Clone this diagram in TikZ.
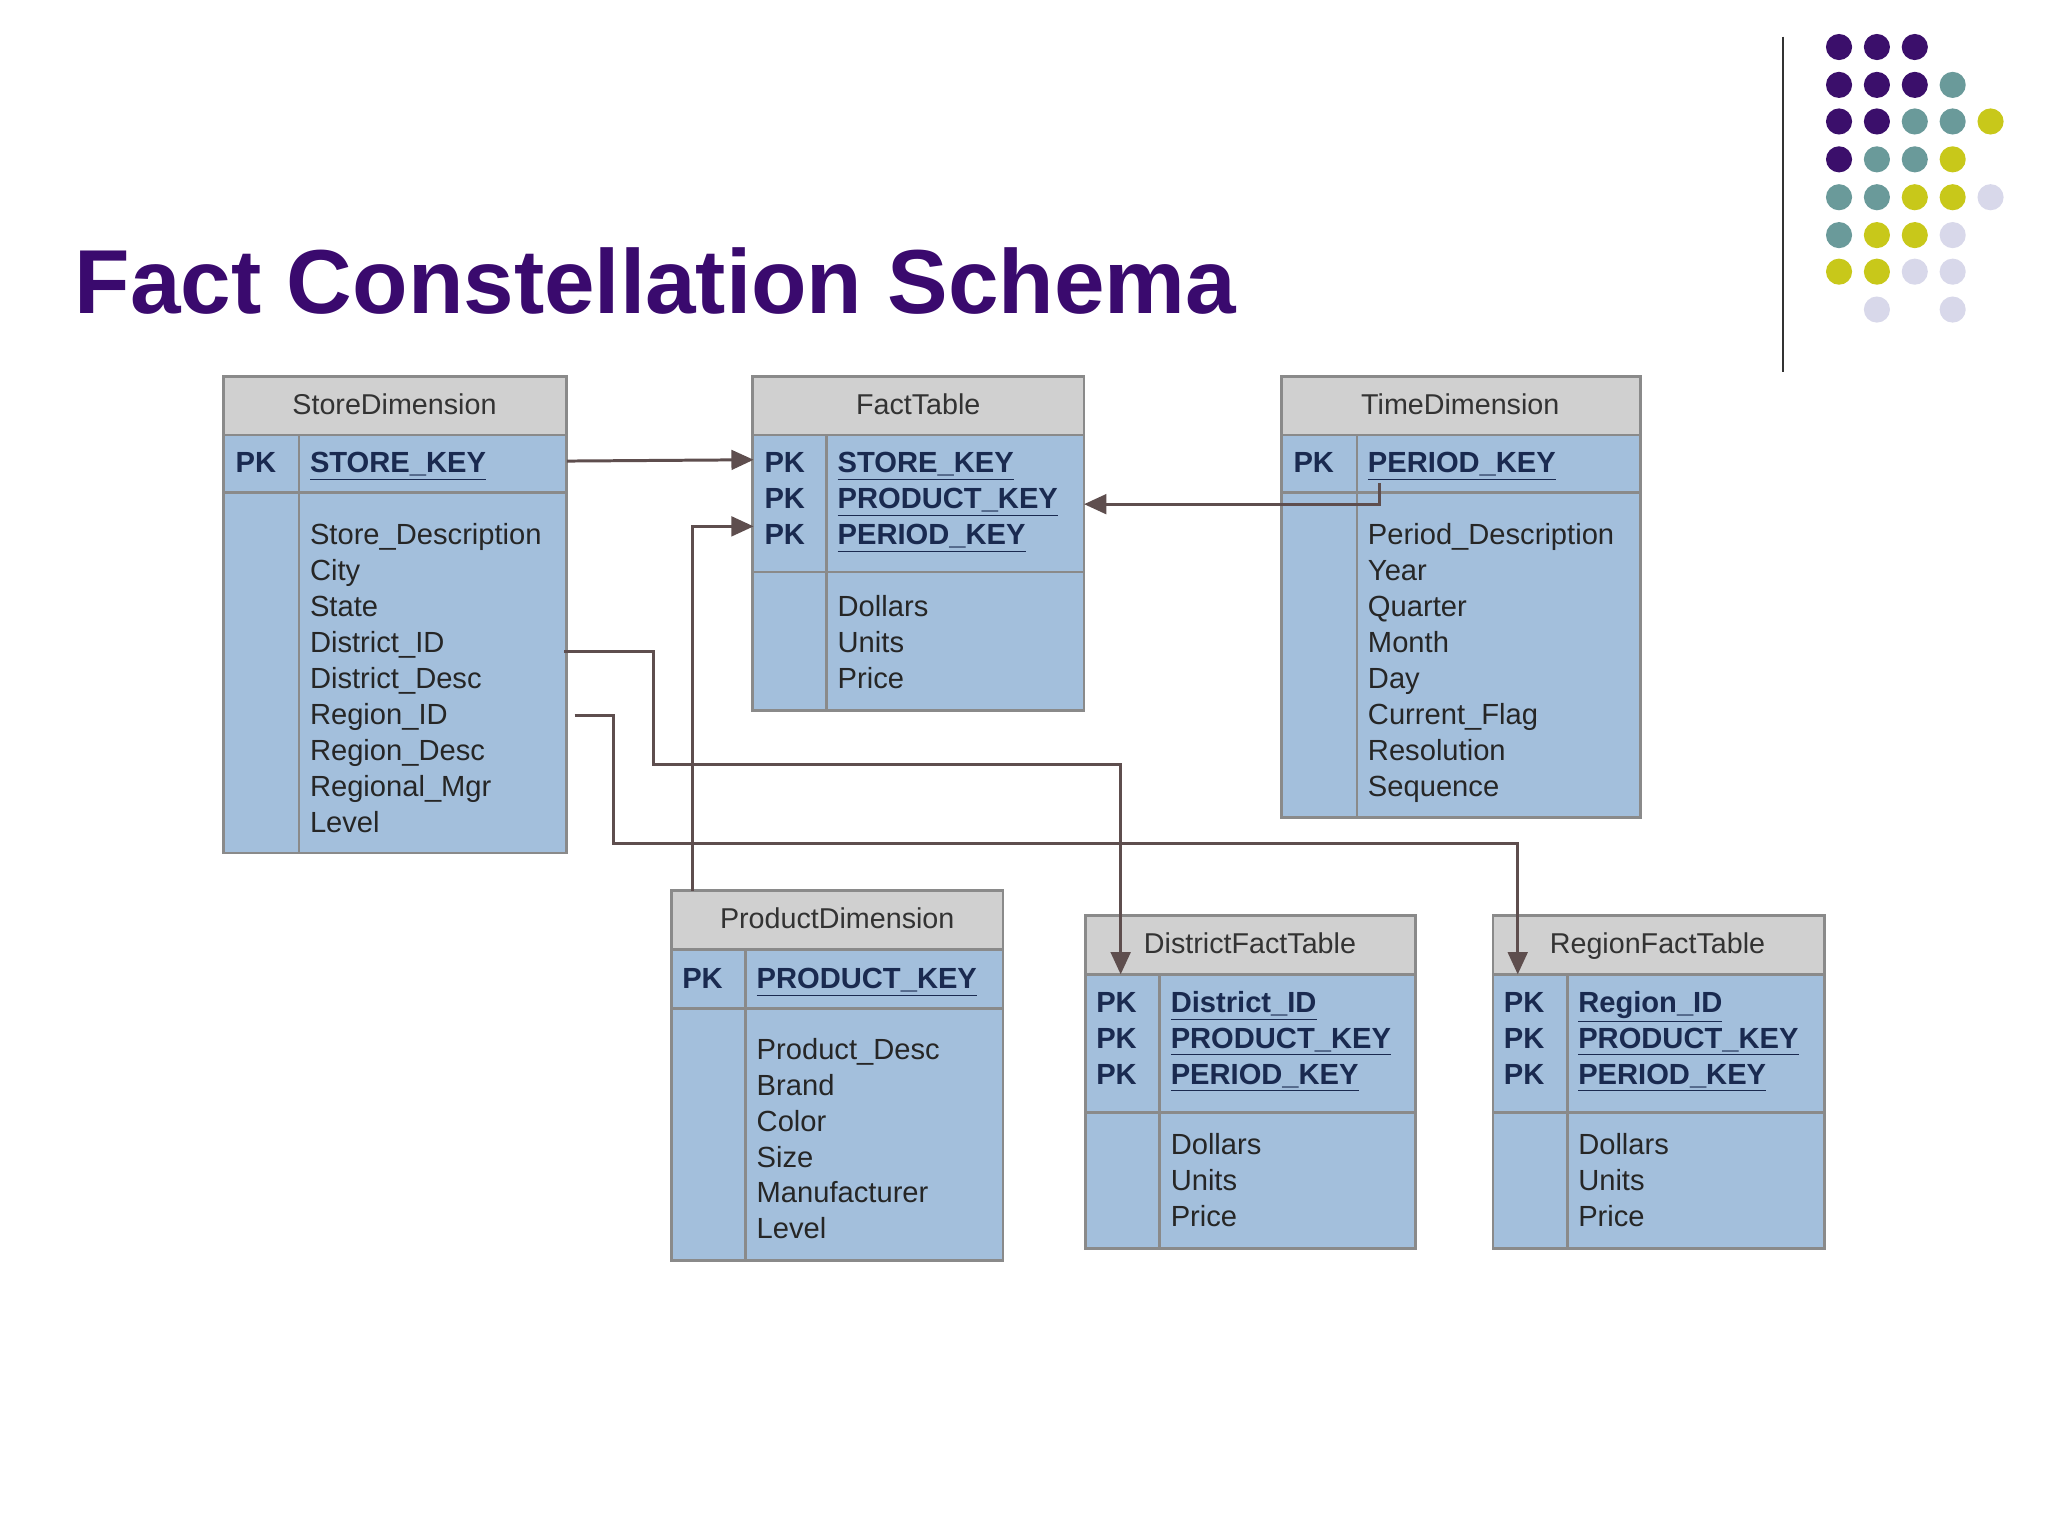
\documentclass[tikz,border=0pt]{standalone}
\usepackage{fontspec}
\setmainfont{Liberation Sans}
\usetikzlibrary{arrows.meta}
\definecolor{ttl}{HTML}{3A0A6E}
\definecolor{dP}{HTML}{3B0F6B}
\definecolor{dT}{HTML}{6A9A9A}
\definecolor{dY}{HTML}{C8C81A}
\definecolor{dL}{HTML}{D8D8EA}
\definecolor{hdr}{HTML}{D0D0D0}
\definecolor{bdy}{HTML}{A3BFDC}
\definecolor{brd}{HTML}{8A8A8A}
\definecolor{keyc}{HTML}{1A2A50}
\definecolor{conn}{HTML}{5E4E4E}
\tikzset{
 txt/.style={anchor=base west,inner sep=0,font=\fontsize{12.7}{15}\selectfont,text=black!85},
 key/.style={txt,font=\fontsize{12.7}{15}\selectfont\bfseries,text=keyc},
 ttlx/.style={anchor=base,inner sep=0,font=\fontsize{12.5}{15}\selectfont,text=black!80},
 cn/.style={draw=conn,line width=1.3pt,-{Triangle[length=0.34cm,width=0.3cm]}},
}
% #1 x1, #2 x2, #3 ytop, #4 yhdr, #5 ykey, #6 ybot, #7 sep
\newcommand\mytab[7]{%
 \fill[hdr] (#1,#3) rectangle (#2,#4);
 \fill[bdy] (#1,#4) rectangle (#2,#6);
 \draw[brd,line width=1.2pt] (#1,#3) rectangle (#2,#6);
 \draw[brd,line width=1.2pt] (#1,#4) -- (#2,#4) (#1,#5) -- (#2,#5) (#7,#4) -- (#7,#6);
}
\begin{document}
\begin{tikzpicture}[x=0.02cm,y=-0.02cm]
\fill[white] (0,0) rectangle (1568,1176);
\useasboundingbox (0,0) rectangle (1568,1176);
\node[anchor=base west,inner sep=0,text=ttl,font=\fontsize{39.6}{44}\selectfont\bfseries] (title) at (57,240) {Fact Constellation Schema};
\draw[black!80,line width=1pt] (1365,28) -- (1365,285);
% dots
\foreach \c/\x/\y in {dP/0/36,dP/1/36,dP/2/36,
 dP/0/65,dP/1/65,dP/2/65,dT/3/65,
 dP/0/93,dP/1/93,dT/2/93,dT/3/93,dY/4/93,
 dP/0/122,dT/1/122,dT/2/122,dY/3/122,
 dT/0/151,dT/1/151,dY/2/151,dY/3/151,dL/4/151,
 dT/0/180,dY/1/180,dY/2/180,dL/3/180,
 dY/0/208,dY/1/208,dL/2/208,dL/3/208,
 dL/1/237,dL/3/237}
 \fill[\c] (1408+\x*29,\y) circle (10);
% tables
\mytab{171}{434}{288}{333}{377}{653}{229}
\mytab{576}{830}{288}{333}{438}{544}{633}
\mytab{981}{1256}{288}{333}{377}{626}{1039}
\mytab{514}{768}{682}{727}{772}{965}{571}
\mytab{831}{1084}{701}{746}{852}{956}{888}
\mytab{1143}{1397}{701}{746}{852}{956}{1200}
% Store
\node[ttlx] (sd) at (302,317) {StoreDimension};
\node[key] (sdpk) at (180,362) {PK};
\node[key] (sdk) at (237,362) {\underline{STORE\_KEY}};
\foreach \t [count=\i from 0] in {Store\_Description,City,State,District\_ID,District\_Desc,Region\_ID,Region\_Desc,Regional\_Mgr,Level}
 \node[txt] (sd\i) at (237,417+27.5*\i) {\t};
% Fact
\node[ttlx] (ft) at (703,317) {FactTable};
\foreach \t [count=\i from 0] in {STORE\_KEY,PRODUCT\_KEY,PERIOD\_KEY}{
 \node[key] (ftpk\i) at (585,362+27.5*\i) {PK};
 \node[key] (ftk\i) at (641,362+27.5*\i) {\underline{\t}};}
\foreach \t [count=\i from 0] in {Dollars,Units,Price}
 \node[txt] (ftb\i) at (641,472+27.5*\i) {\t};
% Time
\node[ttlx] (td) at (1118,317) {TimeDimension};
\node[key] (tdpk) at (990,362) {PK};
\node[key] (tdk) at (1047,362) {\underline{PERIOD\_KEY}};
\foreach \t [count=\i from 0] in {Period\_Description,Year,Quarter,Month,Day,Current\_Flag,Resolution,Sequence}
 \node[txt] (td\i) at (1047,417+27.5*\i) {\t};
% Product
\node[ttlx] (pd) at (641,711) {ProductDimension};
\node[key] (pdpk) at (522,757) {PK};
\node[key] (pdk) at (579,757) {\underline{PRODUCT\_KEY}};
\foreach \t [count=\i from 0] in {Product\_Desc,Brand,Color,Size,Manufacturer,Level}
 \node[txt] (pd\i) at (579,811+27.5*\i) {\t};
% District
\node[ttlx] (df) at (957,730) {DistrictFactTable};
\foreach \t [count=\i from 0] in {District\_ID,PRODUCT\_KEY,PERIOD\_KEY}{
 \node[key] (dfpk\i) at (839,775+27.5*\i) {PK};
 \node[key] (dfk\i) at (896,775+27.5*\i) {\underline{\t}};}
\foreach \t [count=\i from 0] in {Dollars,Units,Price}
 \node[txt] (dfb\i) at (896,884+27.5*\i) {\t};
% Region
\node[ttlx] (rf) at (1269,730) {RegionFactTable};
\foreach \t [count=\i from 0] in {Region\_ID,PRODUCT\_KEY,PERIOD\_KEY}{
 \node[key] (rfpk\i) at (1151,775+27.5*\i) {PK};
 \node[key] (rfk\i) at (1208,775+27.5*\i) {\underline{\t}};}
\foreach \t [count=\i from 0] in {Dollars,Units,Price}
 \node[txt] (rfb\i) at (1208,884+27.5*\i) {\t};
% connectors
\coordinate (a1) at (434,353); \coordinate (a2) at (577,352);
\coordinate (b1) at (1056,370); \coordinate (b2) at (830,386);
\coordinate (c1) at (530,682); \coordinate (c2) at (577,403);
\coordinate (d1) at (432,499); \coordinate (d2) at (858,746);
\coordinate (e1) at (440,548); \coordinate (e2) at (1162,746);
\draw[cn] (a1) -- (a2);
\draw[cn] (b1) |- (b2);
\draw[cn] (c1) |- (c2);
\draw[cn] (d1) -- (500,499) -- (500,585) -- (858,585) -- (d2);
\draw[cn] (e1) -- (470,548) -- (470,646) -- (1162,646) -- (e2);
\end{tikzpicture}
\end{document}
